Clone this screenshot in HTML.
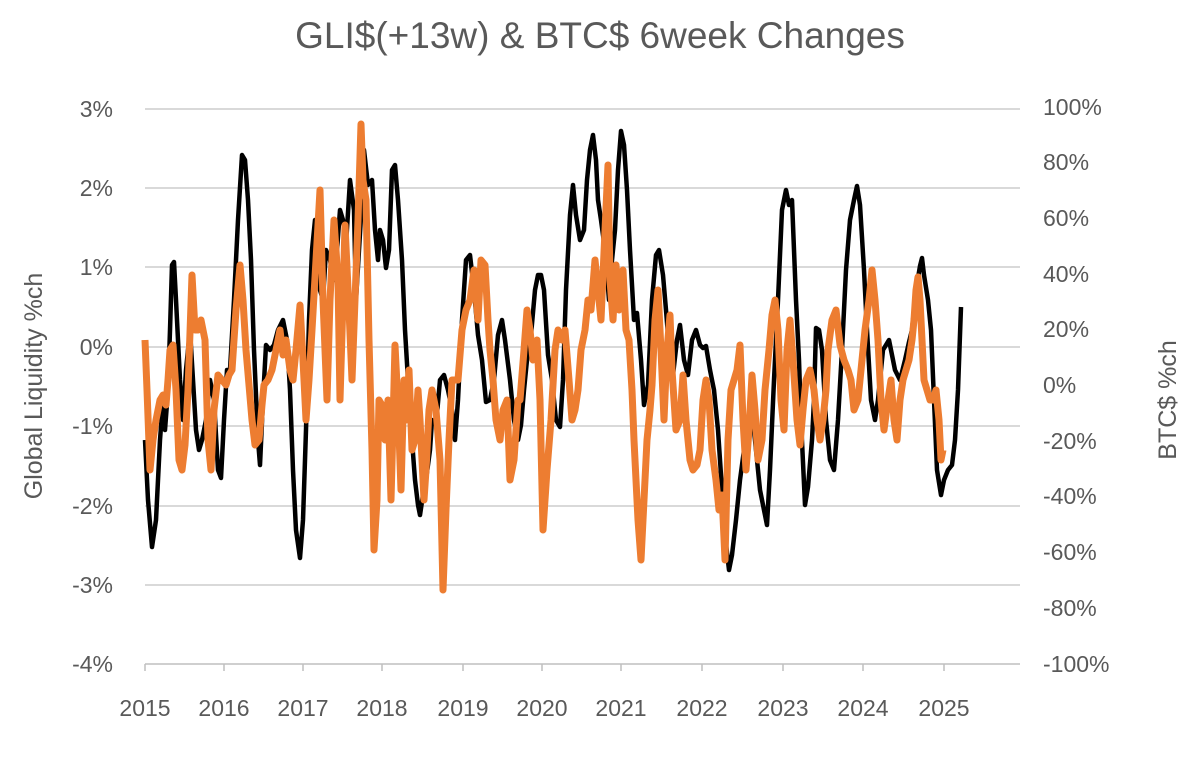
<!DOCTYPE html>
<html><head><meta charset="utf-8"><style>
html,body{margin:0;padding:0;background:#fff;}
svg text{font-family:"Liberation Sans",sans-serif;fill:#595959;}
</style></head><body>
<svg width="1200" height="755" viewBox="0 0 1200 755" xmlns="http://www.w3.org/2000/svg">
<text x="600" y="48" font-size="37" text-anchor="middle">GLI$(+13w) &amp; BTC$ 6week Changes</text>
<g stroke="#d9d9d9" stroke-width="2">
<line x1="145" x2="1020" y1="109" y2="109"/><line x1="145" x2="1020" y1="188" y2="188"/>
<line x1="145" x2="1020" y1="267" y2="267"/><line x1="145" x2="1020" y1="347" y2="347"/>
<line x1="145" x2="1020" y1="426" y2="426"/><line x1="145" x2="1020" y1="506" y2="506"/>
<line x1="145" x2="1020" y1="585" y2="585"/>
</g>
<g stroke="#bfbfbf" stroke-width="1.5">
<line x1="145" x2="1020" y1="664" y2="664"/>
<line x1="145" x2="145" y1="664" y2="671"/><line x1="224" x2="224" y1="664" y2="671"/>
<line x1="303" x2="303" y1="664" y2="671"/><line x1="382" x2="382" y1="664" y2="671"/>
<line x1="463" x2="463" y1="664" y2="671"/><line x1="542" x2="542" y1="664" y2="671"/>
<line x1="621" x2="621" y1="664" y2="671"/><line x1="702" x2="702" y1="664" y2="671"/>
<line x1="783" x2="783" y1="664" y2="671"/><line x1="863" x2="863" y1="664" y2="671"/>
<line x1="944" x2="944" y1="664" y2="671"/>
</g>
<g font-size="23" text-anchor="end">
<text x="113" y="117">3%</text><text x="113" y="196">2%</text><text x="113" y="275">1%</text>
<text x="113" y="355">0%</text><text x="113" y="434">-1%</text><text x="113" y="514">-2%</text>
<text x="113" y="593">-3%</text><text x="113" y="672">-4%</text>
</g>
<g font-size="23" text-anchor="start">
<text x="1043" y="115">100%</text><text x="1043" y="170">80%</text><text x="1043" y="226">60%</text>
<text x="1043" y="282">40%</text><text x="1043" y="337">20%</text><text x="1043" y="393">0%</text>
<text x="1043" y="449">-20%</text><text x="1043" y="504">-40%</text><text x="1043" y="560">-60%</text>
<text x="1043" y="616">-80%</text><text x="1043" y="672">-100%</text>
</g>
<g font-size="23" text-anchor="middle">
<text x="145" y="716">2015</text><text x="224" y="716">2016</text><text x="303" y="716">2017</text>
<text x="382" y="716">2018</text><text x="463" y="716">2019</text><text x="542" y="716">2020</text>
<text x="621" y="716">2021</text><text x="702" y="716">2022</text><text x="783" y="716">2023</text>
<text x="863" y="716">2024</text><text x="944" y="716">2025</text>
</g>
<text transform="translate(42,386) rotate(-90)" font-size="25" text-anchor="middle">Global Liquidity %ch</text>
<text transform="translate(1176,400) rotate(-90)" font-size="25" text-anchor="middle">BTC$ %ch</text>
<polyline fill="none" stroke="#000" stroke-width="4.5" stroke-linejoin="round" points="145,440 148,500 152,547 156,520 160,440 163,400 165,430 168,390 170,330 172,265 174,262 176,300 180,380 183,420 186,370 190,330 193,380 196,430 199,450 202,440 206,420 210,380 214,400 218,470 221,478 224,420 227,370 230,370 234,300 238,220 242,155 245,160 248,200 251,260 254,350 258,440 260,465 263,400 266,345 270,350 274,345 278,330 283,320 287,340 290,390 293,470 296,530 300,558 303,520 306,430 309,320 312,250 315,220 318,240 320,290 323,300 326,250 330,260 334,280 337,250 340,210 343,220 346,245 350,180 354,210 356,300 359,250 362,200 364,150 368,185 372,180 375,230 378,260 380,230 383,240 386,268 389,250 392,170 395,165 398,200 402,260 405,330 408,380 412,440 415,480 418,505 420,515 423,495 426,480 430,450 432,420 436,425 440,380 444,375 448,390 452,410 455,440 458,400 462,320 466,260 470,255 474,290 478,335 482,360 486,402 490,400 494,380 498,335 502,320 505,340 510,380 514,420 518,440 521,425 524,390 528,350 531,335 535,290 538,275 541,275 544,290 548,355 552,380 556,420 560,427 563,380 566,290 570,215 573,185 576,215 580,240 584,230 587,180 590,150 593,135 596,160 598,200 601,220 605,250 609,300 612,260 615,230 618,170 621,131 624,145 627,190 630,250 634,320 637,313 641,360 644,405 648,385 652,300 656,255 659,250 663,275 666,310 670,360 673,375 677,340 680,325 684,360 688,375 692,340 696,330 700,345 703,348 706,346 710,370 714,390 718,430 722,490 725,535 729,570 732,555 736,520 740,480 744,450 748,420 752,410 756,450 760,490 764,510 767,525 770,470 774,380 778,300 782,210 786,190 789,205 792,200 796,300 799,360 801,420 805,505 808,487 812,440 814,400 816,328 819,330 822,350 826,420 830,460 834,470 838,420 842,350 846,270 850,220 854,200 857,186 860,205 864,270 867,330 871,400 875,420 878,400 883,350 889,340 895,370 900,380 905,360 909,342 912,330 916,290 920,266 922,258 924,275 928,300 931,330 934,400 937,470 941,495 944,480 948,470 952,465 955,440 958,390 961,307"/>
<polyline fill="none" stroke="#ed7d31" stroke-width="7" stroke-linejoin="round" points="145,340 147,390 150,470 153,440 156,420 160,400 163,395 166,405 168,380 170,350 173,345 176,390 179,460 182,470 185,445 188,390 192,275 195,330 198,330 201,320 205,340 208,440 211,470 214,410 218,375 222,380 226,385 229,375 232,370 236,310 240,265 243,300 246,350 249,385 252,420 255,445 259,440 262,405 264,385 268,380 272,370 276,350 280,330 283,355 286,340 290,370 293,380 296,350 300,305 303,360 306,420 309,380 312,330 316,260 320,190 323,300 327,400 330,300 334,220 338,280 340,400 343,300 345,225 349,310 352,380 355,300 358,220 361,124 363,180 366,200 369,340 372,450 374,550 377,500 379,400 382,405 385,440 388,400 391,500 393,425 395,345 398,405 401,490 404,380 406,420 409,370 412,450 415,440 418,390 420,420 424,500 426,470 429,410 432,390 436,410 440,460 443,590 446,510 449,440 452,380 455,380 458,380 462,330 466,310 470,300 474,270 478,320 481,260 485,265 488,320 490,350 493,380 496,420 500,440 503,410 507,400 510,480 514,460 518,400 520,400 524,350 527,310 530,330 533,360 537,340 540,400 543,530 547,470 551,420 555,350 558,330 562,340 565,330 569,380 572,420 575,410 578,390 581,350 585,330 588,300 591,310 595,260 598,290 601,320 605,230 608,165 610,280 613,320 616,265 619,310 623,270 626,330 629,340 632,390 634,440 638,520 641,560 644,500 647,440 650,410 652,385 655,320 658,290 661,350 664,420 667,350 670,315 672,370 676,430 680,420 683,375 686,420 690,460 693,470 697,465 700,450 703,400 706,380 709,400 712,450 716,480 719,510 722,495 725,560 728,440 731,390 734,380 737,370 740,345 743,420 746,470 749,430 752,375 755,410 758,460 762,440 765,390 769,350 772,315 775,300 778,330 781,400 784,430 787,350 790,320 793,360 797,420 800,445 803,410 806,380 810,370 814,390 817,420 820,440 823,420 826,390 828,350 832,320 836,310 840,345 844,360 848,370 851,380 854,410 858,400 861,370 865,330 869,300 872,270 875,300 878,340 881,400 884,430 888,400 891,380 894,420 897,440 900,400 903,380 906,370 909,360 912,340 914,320 916,290 918,277 920,300 922,340 924,380 927,390 930,400 933,400 936,390 939,420 941,460 943,450"/>
</svg>
</body></html>
